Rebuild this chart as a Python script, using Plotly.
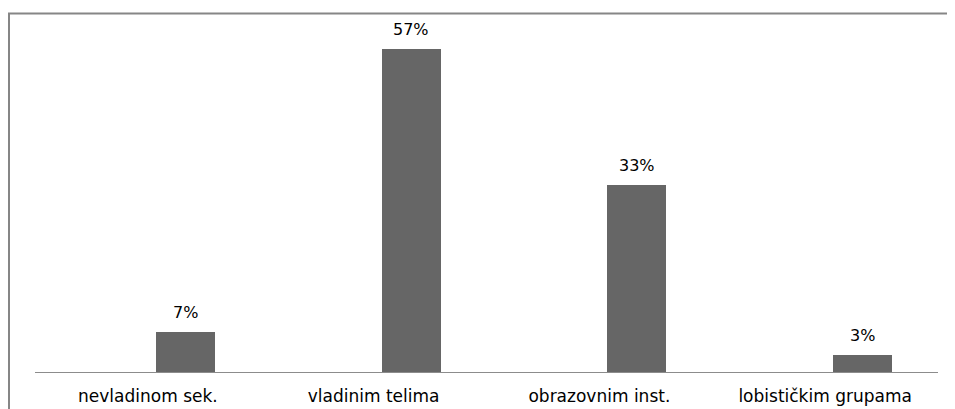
import plotly.graph_objects as go

categories = ["nevladinom sek.", "vladinim telima", "obrazovnim inst.", "lobističkim grupama"]
values = [7, 57, 33, 3]
value_labels = ["7%", "57%", "33%", "3%"]

BAR_OFFSET = 0.035
BAR_WIDTH = 0.262
FONT = "DejaVu Sans"

xs = list(range(len(categories)))

fig = go.Figure()
fig.add_trace(go.Bar(
    x=xs, y=values,
    offset=BAR_OFFSET, width=BAR_WIDTH,
    marker=dict(color="#666666", line=dict(width=0)),
    hoverinfo="skip",
))

for x, v, t in zip(xs, values, value_labels):
    fig.add_annotation(
        x=x + BAR_OFFSET + BAR_WIDTH / 2, y=v, xref="x", yref="y",
        text=t, showarrow=False, yanchor="bottom", yshift=8,
        font=dict(family=FONT, size=16, color="#000000"),
    )

# outer chart frame (only top/left edges visible in the window)
fig.add_shape(type="rect", xref="paper", yref="paper",
              x0=-0.0288, x1=1.04, y0=-0.2, y1=1.0544,
              line=dict(color="#868686", width=2), fillcolor="rgba(0,0,0,0)",
              layer="below")

fig.update_layout(
    width=947, height=401,
    margin=dict(l=27, r=17, t=24, b=37, autoexpand=False),
    paper_bgcolor="white", plot_bgcolor="white",
    showlegend=False,
    bargap=0,
    xaxis=dict(
        range=[-0.5, 3.5], tickvals=xs, ticktext=categories,
        showgrid=False, zeroline=False, showline=True,
        linecolor="#8c8c8c", linewidth=1, ticks="",
        ticklabelstandoff=9,
        tickfont=dict(family=FONT, size=17, color="#000000"),
        fixedrange=True,
    ),
    yaxis=dict(
        range=[0, 60], visible=False, showgrid=False, zeroline=False,
        fixedrange=True,
    ),
)

fig.write_html("out.html")
